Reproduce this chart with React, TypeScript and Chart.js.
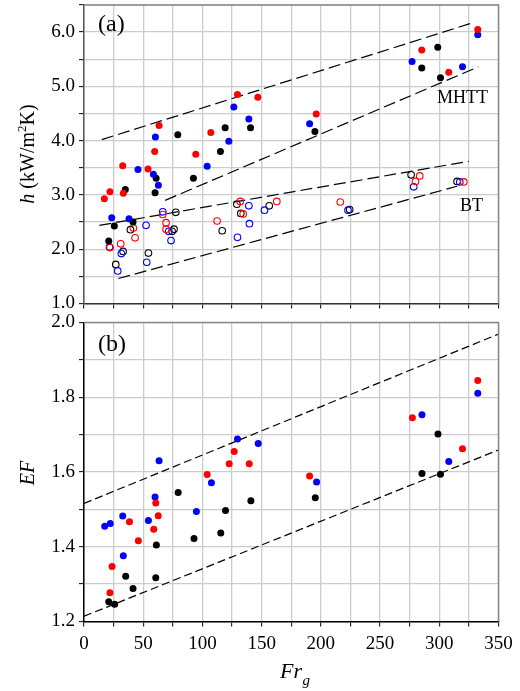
import React, { useEffect, useRef } from 'react';
import { Chart, registerables } from 'chart.js';
Chart.register(...registerables);

const FONT = '"Liberation Serif", "Times New Roman", serif';
Chart.defaults.font.family = FONT;

// ---------- panel (a): h vs Fr_g ----------
const aRedFilledX = [63.4, 59.7, 32.7, 54.1, 94.4, 107.1, 129.6, 146.8, 196.1, 285.2, 308, 332.5, 21.9, 33.2, 17.2];
const aRedFilledY = [4.28, 3.8, 3.54, 3.48, 3.75, 4.15, 4.85, 4.8, 4.49, 5.67, 5.26, 6.05, 3.06, 3.03, 2.93];
const aBlueFilledX = [60.3, 45.6, 104, 122.3, 126.5, 139.2, 190.5, 277, 319.6, 332.5, 58.6, 62.8, 23.4, 38];
const aBlueFilledY = [4.07, 3.47, 3.53, 3.99, 4.62, 4.4, 4.31, 5.46, 5.36, 5.95, 3.38, 3.18, 2.58, 2.56];
const aBlackFilledX = [79.2, 115.2, 119.2, 140.6, 60.9, 92.4, 34.9, 60, 41.4, 25.6, 20.9, 195, 285.2, 298.7, 301];
const aBlackFilledY = [4.11, 3.8, 4.24, 4.24, 3.31, 3.31, 3.1, 3.04, 2.5, 2.43, 2.15, 4.17, 5.34, 5.72, 5.16];

const aRedOpenX = [41.7, 43.1, 22, 31, 66.5, 69.3, 69.3, 112.4, 131.9, 134.4, 162.8, 216.4, 283.5, 279.9, 320.7];
const aRedOpenY = [2.39, 2.21, 2.03, 2.1, 2.64, 2.49, 2.37, 2.52, 2.88, 2.65, 2.88, 2.87, 3.35, 3.25, 3.24];
const aBlueOpenX = [52.4, 21.5, 31.5, 28.5, 53, 66.5, 71.5, 73.5, 129.6, 139.2, 139.7, 152.4, 222.9, 278.4, 317.3];
const aBlueOpenY = [2.44, 2.04, 1.92, 1.6, 1.76, 2.69, 2.33, 2.16, 2.22, 2.8, 2.47, 2.72, 2.72, 3.15, 3.24];
const aBlackOpenX = [39.2, 33, 26.8, 54.4, 74.4, 76, 77.5, 116.7, 129.1, 132.4, 156.4, 224.3, 276.2, 315];
const aBlackOpenY = [2.36, 1.96, 1.72, 1.93, 2.33, 2.37, 2.68, 2.34, 2.83, 2.66, 2.8, 2.73, 3.37, 3.25];

const mhttUpperX = [15, 328];
const mhttUpperY = [4.02, 6.17];
const mhttLowerX = [68.5, 333];
const mhttLowerY = [2.9, 5.36];
const btUpperX = [13, 325];
const btUpperY = [2.44, 3.62];
const btLowerX = [29, 315];
const btLowerY = [1.46, 3.16];

// ---------- panel (b): EF vs Fr_g ----------
const bRedX = [126.8, 122.6, 139.5, 104, 60.6, 62.7, 38.4, 58.9, 45.9, 23.7, 21.9, 190.5, 277.3, 332.5, 319.6];
const bRedY = [1.655, 1.622, 1.622, 1.593, 1.517, 1.483, 1.467, 1.447, 1.416, 1.347, 1.277, 1.589, 1.745, 1.845, 1.662];
const bBlueX = [129.6, 147.1, 63.4, 107.6, 60, 94.9, 32.7, 54.4, 22.2, 17.5, 33.2, 196.4, 285.4, 332.5, 308];
const bBlueY = [1.688, 1.676, 1.63, 1.571, 1.533, 1.494, 1.482, 1.47, 1.462, 1.455, 1.376, 1.573, 1.753, 1.811, 1.628];
const bBlackX = [79.5, 140.9, 119.5, 115.5, 92.9, 61.1, 35.2, 60.6, 41.4, 20.9, 25.9, 195.3, 285.4, 301, 298.9];
const bBlackY = [1.545, 1.523, 1.497, 1.437, 1.422, 1.405, 1.321, 1.317, 1.288, 1.253, 1.246, 1.531, 1.596, 1.594, 1.702];

const efUpperX = [0, 350];
const efUpperY = [1.516, 1.969];
const efLowerX = [0, 350];
const efLowerY = [1.214, 1.659];

const xTickStep = 25;
const xMin = 0;
const xMax = 350;

const zip = (xs: number[], ys: number[]) => xs.map((x, i) => ({ x, y: ys[i] }));

function pts(xs: number[], ys: number[], color: string, filled: boolean) {
  return {
    data: zip(xs, ys),
    showLine: false,
    pointRadius: filled ? 3.5 : 3.3,
    pointHoverRadius: filled ? 3.5 : 3.3,
    pointBackgroundColor: filled ? color : 'rgba(0,0,0,0)',
    pointBorderColor: color,
    pointBorderWidth: filled ? 0 : 1.1,
  };
}

function dashed(xs: number[], ys: number[], dash: number[]) {
  return {
    data: zip(xs, ys),
    showLine: true,
    borderColor: '#000',
    borderWidth: 1.2,
    borderDash: dash,
    pointRadius: 0,
    pointHoverRadius: 0,
    fill: false,
    tension: 0,
  };
}

const GRID = { color: '#cccccc', lineWidth: 1.3, tickLength: 5, tickColor: '#000', tickWidth: 1 };

function fitX(h: number) {
  return (s: any) => {
    s.height = h;
    s.paddingLeft = 0;
    s.paddingRight = 0;
    s.paddingTop = 0;
    s.paddingBottom = 0;
  };
}
function fitY(w: number) {
  return (s: any) => {
    s.width = w;
    s.paddingLeft = 0;
    s.paddingRight = 0;
    s.paddingTop = 0;
    s.paddingBottom = 0;
  };
}

function framePlugin(color: string) {
  return {
    id: 'frame',
    afterDraw(chart: any) {
      const { ctx, chartArea: a } = chart;
      ctx.save();
      ctx.strokeStyle = color;
      ctx.lineWidth = 1.5;
      ctx.beginPath();
      ctx.moveTo(a.left, a.top);
      ctx.lineTo(a.right, a.top);
      ctx.lineTo(a.right, a.bottom);
      ctx.stroke();
      ctx.restore();
    },
  };
}

function textPlugin(draw: (ctx: CanvasRenderingContext2D) => void) {
  return {
    id: 'texts',
    afterDraw(chart: any) {
      const ctx = chart.ctx as CanvasRenderingContext2D;
      ctx.save();
      ctx.fillStyle = '#000';
      ctx.textBaseline = 'alphabetic';
      ctx.textAlign = 'left';
      draw(ctx);
      ctx.restore();
    },
  };
}

function drawTextA(ctx: CanvasRenderingContext2D) {
  ctx.font = `24px ${FONT}`;
  ctx.fillText('(a)', 98, 30.5);
  ctx.font = `18px ${FONT}`;
  ctx.fillText('MHTT', 437, 103);
  ctx.fillText('BT', 460, 211);
  // y title: h (kW/m²K)
  ctx.save();
  ctx.translate(33.5, 154);
  ctx.rotate(-Math.PI / 2);
  const parts = [
    { t: 'h', f: `italic 20px ${FONT}`, dy: 0 },
    { t: ' (kW/m', f: `20px ${FONT}`, dy: 0 },
    { t: '2', f: `13px ${FONT}`, dy: -8 },
    { t: 'K)', f: `20px ${FONT}`, dy: 0 },
  ];
  let w = 0;
  const ws = parts.map((p) => {
    ctx.font = p.f;
    const m = ctx.measureText(p.t).width;
    w += m;
    return m;
  });
  let x = -w / 2;
  parts.forEach((p, i) => {
    ctx.font = p.f;
    ctx.fillText(p.t, x, p.dy);
    x += ws[i];
  });
  ctx.restore();
}

function drawTextB(ctx: CanvasRenderingContext2D) {
  const off = 312;
  ctx.font = `24px ${FONT}`;
  ctx.fillText('(b)', 98, 350.5 - off);
  ctx.save();
  ctx.translate(33.5, 473 - off);
  ctx.rotate(-Math.PI / 2);
  ctx.font = `italic 20px ${FONT}`;
  ctx.textAlign = 'center';
  ctx.fillText('EF', 0, 0);
  ctx.restore();
  ctx.font = `italic 22px ${FONT}`;
  ctx.fillText('Fr', 280, 678 - off);
  const fw = ctx.measureText('Fr').width;
  ctx.font = `italic 15px ${FONT}`;
  ctx.fillText('g', 280 + fw + 0.5, 685 - off);
}

function baseOptions() {
  return {
    responsive: false,
    animation: false as const,
    events: [] as any[],
    plugins: { legend: { display: false }, tooltip: { enabled: false } },
  };
}

export default function App() {
  const refA = useRef<HTMLCanvasElement>(null);
  const refB = useRef<HTMLCanvasElement>(null);

  useEffect(() => {
    const chartA = new Chart(refA.current as HTMLCanvasElement, {
      type: 'scatter',
      data: {
        datasets: [
          pts(aRedFilledX, aRedFilledY, '#ff0000', true),
          pts(aBlueFilledX, aBlueFilledY, '#0000ff', true),
          pts(aBlackFilledX, aBlackFilledY, '#000000', true),
          pts(aRedOpenX, aRedOpenY, '#ff0000', false),
          pts(aBlueOpenX, aBlueOpenY, '#0000ff', false),
          pts(aBlackOpenX, aBlackOpenY, '#000000', false),
          dashed(mhttUpperX, mhttUpperY, [12, 5]),
          dashed(mhttLowerX, mhttLowerY, [12, 5]),
          dashed(btUpperX, btUpperY, [12, 5]),
          dashed(btLowerX, btLowerY, [12, 5]),
        ] as any,
      },
      options: {
        ...baseOptions(),
        layout: { padding: { left: 0, right: 21.5, top: 5, bottom: 0 } },
        scales: {
          x: {
            type: 'linear',
            min: xMin,
            max: xMax,
            ticks: { stepSize: xTickStep, display: false, autoSkip: false },
            grid: GRID,
            border: { color: '#333', width: 1.5 },
            afterFit: fitX(8.5),
          },
          y: {
            type: 'linear',
            min: 1,
            max: 6.5,
            ticks: {
              stepSize: 0.5,
              autoSkip: false,
              padding: 4,
              color: '#000',
              font: { family: FONT, size: 19 },
              callback: (v: any) => (Math.abs(v - Math.round(v)) < 1e-6 ? Number(v).toFixed(1) : ''),
            },
            grid: GRID,
            border: { color: '#555', width: 1.5 },
            afterFit: fitY(84),
          },
        },
      } as any,
      plugins: [framePlugin('#888'), textPlugin(drawTextA)],
    });

    const chartB = new Chart(refB.current as HTMLCanvasElement, {
      type: 'scatter',
      data: {
        datasets: [
          pts(bRedX, bRedY, '#ff0000', true),
          pts(bBlueX, bBlueY, '#0000ff', true),
          pts(bBlackX, bBlackY, '#000000', true),
          dashed(efUpperX, efUpperY, [8, 4]),
          dashed(efLowerX, efLowerY, [8, 4]),
        ] as any,
      },
      options: {
        ...baseOptions(),
        layout: { padding: { left: 0, right: 21.5, top: 10.5, bottom: 0 } },
        scales: {
          x: {
            type: 'linear',
            min: xMin,
            max: xMax,
            ticks: {
              stepSize: xTickStep,
              autoSkip: false,
              maxRotation: 0,
              padding: 6,
              color: '#000',
              font: { family: FONT, size: 19 },
              callback: (v: any) => (Math.round(v) % 50 === 0 ? String(Math.round(v)) : ''),
            },
            grid: GRID,
            border: { color: '#000', width: 1.5 },
            afterFit: fitX(69.5),
          },
          y: {
            type: 'linear',
            min: 1.2,
            max: 2.0,
            ticks: {
              stepSize: 0.1,
              autoSkip: false,
              padding: 4,
              color: '#000',
              font: { family: FONT, size: 19 },
              callback: (v: any) => {
                const k = Math.round(v * 10);
                return k % 2 === 0 ? (k / 10).toFixed(1) : '';
              },
            },
            grid: GRID,
            border: { color: '#000', width: 1.5 },
            afterFit: fitY(84),
          },
        },
      } as any,
      plugins: [framePlugin('#888'), textPlugin(drawTextB)],
    });

    return () => {
      chartA.destroy();
      chartB.destroy();
    };
  }, []);

  return (
    <div style={{ position: 'absolute', left: 0, top: 0, width: 520, height: 691, background: '#fff' }}>
      <canvas ref={refA} width={520} height={312} style={{ position: 'absolute', left: 0, top: 0, width: 520, height: 312 }} />
      <canvas ref={refB} width={520} height={379} style={{ position: 'absolute', left: 0, top: 312, width: 520, height: 379 }} />
    </div>
  );
}
